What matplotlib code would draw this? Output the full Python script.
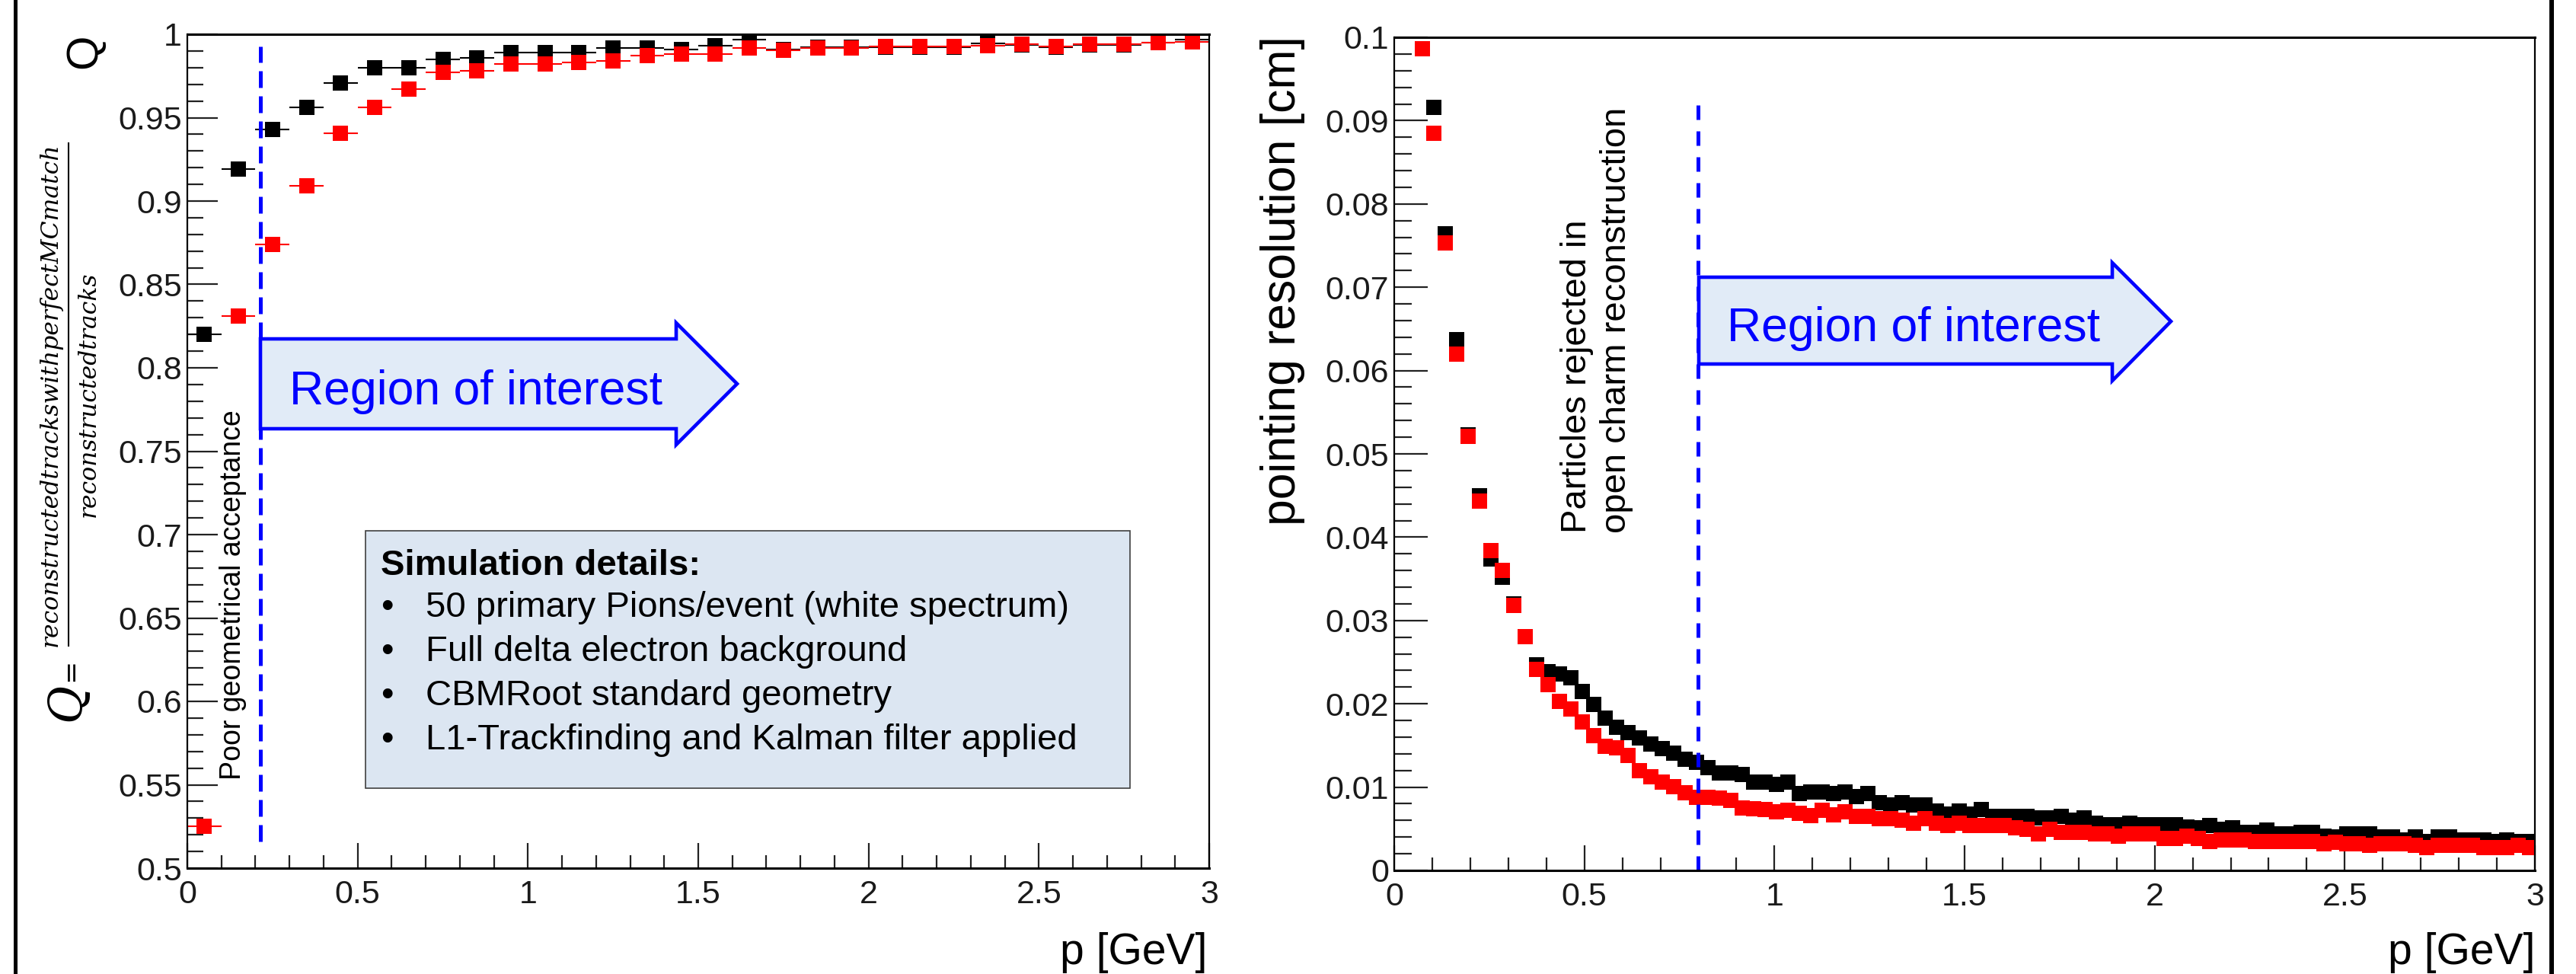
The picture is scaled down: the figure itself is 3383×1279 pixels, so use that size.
import numpy as np
import matplotlib.pyplot as plt
from matplotlib.patches import Polygon, Rectangle
from matplotlib.ticker import MultipleLocator, FuncFormatter

plt.rcParams['font.family'] = ['Liberation Sans', 'DejaVu Sans']

W, H = 3383, 1279
nan = np.nan

# left panel: Q per 0.1 GeV bin
p_left = np.linspace(0.05, 2.95, 30)
q_black = [0.820, 0.919, 0.943, 0.956, 0.971, 0.980, 0.980, 0.985, 0.986, 0.989,
           0.989, 0.989, 0.992, 0.992, 0.991, 0.993, 0.997, 0.9907, 0.9924, 0.9924,
           0.9922, 0.9922, 0.9922, 0.9945, 0.9935, 0.9922, 0.9935, 0.9935, 0.995, 0.9966]
q_red = [0.525, 0.831, 0.874, 0.909, 0.9405, 0.956, 0.967, 0.977, 0.978, 0.982,
         0.982, 0.983, 0.984, 0.987, 0.988, 0.988, 0.9917, 0.9904, 0.9917, 0.9917,
         0.9926, 0.9926, 0.9926, 0.993, 0.994, 0.9926, 0.9939, 0.9939, 0.995, 0.9954]

# right panel: pointing resolution [cm] per 0.03 GeV bin
p_right = np.linspace(0.015, 2.985, 100)
res_black = [nan, nan, nan, 0.0916, 0.0764, 0.0637, 0.0523, 0.0450, 0.0374, 0.0352,
             0.0320, 0.0281, 0.0247, 0.0239, 0.0236, 0.0231, 0.0215, 0.0199, 0.0183, 0.0172,
             0.0165, 0.0159, 0.0152, 0.0146, 0.0141, 0.0133, 0.0130, 0.0123, 0.0117, 0.0117,
             0.0115, 0.0106, 0.0106, 0.0103, 0.0106, 0.0092, 0.0094, 0.0094, 0.0092, 0.0094,
             0.0089, 0.0092, 0.0081, 0.0079, 0.0081, 0.0079, 0.0079, 0.0071, 0.0068, 0.0071,
             0.0068, 0.0073, 0.0065, 0.0065, 0.0065, 0.0065, 0.0063, 0.0063, 0.0065, 0.0060,
             0.0063, 0.0057, 0.0055, 0.0055, 0.0057, 0.0055, 0.0055, 0.0055, 0.0055, 0.0052,
             0.0051, 0.0054, 0.0049, 0.0051, 0.0046, 0.0046, 0.0048, 0.0044, 0.0044, 0.0046,
             0.0046, 0.0041, 0.0040, 0.0044, 0.0044, 0.0044, 0.0040, 0.0040, 0.0037, 0.0040,
             0.0035, 0.0040, 0.0040, 0.0037, 0.0037, 0.0037, 0.0035, 0.0037, 0.0035, 0.0035]
res_red = [nan, nan, 0.0986, 0.0885, 0.0753, 0.0620, 0.0521, 0.0443, 0.0384, 0.0360,
           0.0318, 0.0281, 0.0241, 0.0223, 0.0203, 0.0194, 0.0178, 0.0162, 0.0149, 0.0147,
           0.0138, 0.0120, 0.0112, 0.0106, 0.0101, 0.0093, 0.0088, 0.0088, 0.0087, 0.0084,
           0.0075, 0.0074, 0.0073, 0.0070, 0.0072, 0.0069, 0.0066, 0.0072, 0.0067, 0.0070,
           0.0065, 0.0065, 0.0062, 0.0062, 0.0060, 0.0057, 0.0062, 0.0057, 0.0054, 0.0057,
           0.0054, 0.0054, 0.0054, 0.0054, 0.0051, 0.0049, 0.0044, 0.0049, 0.0046, 0.0046,
           0.0046, 0.0044, 0.0044, 0.0041, 0.0044, 0.0044, 0.0044, 0.0038, 0.0038, 0.0041,
           0.0038, 0.0035, 0.0037, 0.0037, 0.0037, 0.0035, 0.0035, 0.0035, 0.0035, 0.0035,
           0.0035, 0.0032, 0.0034, 0.0032, 0.0032, 0.0030, 0.0032, 0.0032, 0.0032, 0.0030,
           0.0027, 0.0030, 0.0030, 0.0030, 0.0030, 0.0027, 0.0027, 0.0027, 0.0030, 0.0027]

cut_left = 0.215
cut_right = 0.8
sim_lines = ["50 primary Pions/event (white spectrum)",
             "Full delta electron background",
             "CBMRoot standard geometry",
             "L1-Trackfinding and Kalman filter applied"]

BLUE = '#0000ff'
ARROW_FILL = '#e1ebf7'
TICK_FONT = ['Liberation Sans Narrow', 'Liberation Sans']

fig = plt.figure(figsize=(W / 100, H / 100), dpi=100)
ax1 = fig.add_axes([246 / W, 1 - 1140 / H, (1588 - 246) / W, (1140 - 45) / H])
ax2 = fig.add_axes([1831 / W, 1 - 1143 / H, (3329 - 1831) / W, (1143 - 49) / H])


def root_style(ax, ymajor, yminor, ylen):
    fmt = FuncFormatter(lambda v, pos: '%g' % round(v, 4))
    ax.xaxis.set_major_locator(MultipleLocator(0.5))
    ax.xaxis.set_minor_locator(MultipleLocator(0.1))
    ax.yaxis.set_major_locator(MultipleLocator(ymajor))
    ax.yaxis.set_minor_locator(MultipleLocator(yminor))
    ax.xaxis.set_major_formatter(fmt)
    ax.yaxis.set_major_formatter(fmt)
    ax.tick_params(which='both', direction='in', top=False, right=False,
                   width=1.6, color='#222222')
    ax.tick_params(axis='y', which='major', length=ylen, pad=5)
    ax.tick_params(axis='y', which='minor', length=ylen * 0.52)
    ax.tick_params(axis='x', which='major', length=24, pad=11)
    ax.tick_params(axis='x', which='minor', length=12)
    for lab in ax.get_xticklabels() + ax.get_yticklabels():
        lab.set_family(TICK_FONT)
        lab.set_fontsize(31)
        lab.set_color('#1a1a1a')
    for s in ax.spines.values():
        s.set_linewidth(1.6)
    ax.spines['top'].set_linewidth(2.2)
    ax.spines['bottom'].set_linewidth(2.2)


# left panel
ax1.errorbar(p_left, q_black, xerr=0.05, fmt='s', color='black', ms=15, mew=0,
             elinewidth=1.5, capsize=0)
ax1.errorbar(p_left, q_red, xerr=0.05, fmt='s', color='red', ms=15, mew=0,
             elinewidth=1.5, capsize=0)
ax1.plot([cut_left, cut_left], [0.516, 0.9927], color=BLUE, lw=3.6, ls=(0, (4.4, 2.2)))
ax1.set_xlim(0, 3)
ax1.set_ylim(0.5, 1)
root_style(ax1, 0.05, 0.01, 29)

# right panel
ax2.plot(p_right, res_black, 's', color='black', ms=15, mew=0)
ax2.plot(p_right, res_red, 's', color='red', ms=15, mew=0)
ax2.plot([cut_right, cut_right], [0, 0.0921], color=BLUE, lw=3.6, ls=(0, (3.8, 3.0)))
ax2.set_xlim(0, 3)
ax2.set_ylim(0, 0.1)
root_style(ax2, 0.01, 0.002, 32)

# overlay in pixel coordinates for the slide annotations
ov = fig.add_axes([0, 0, 1, 1])
ov.set_xlim(0, W)
ov.set_ylim(H, 0)
ov.axis('off')
ov.patch.set_alpha(0)

# outer frame
ov.plot([20, 20], [0, H], color='black', lw=3.6)
ov.plot([3351, 3351], [0, H], color='black', lw=4.3)

# axis titles
ov.text(111, 67, 'Q', rotation=90, ha='center', va='center', fontsize=42)
ov.text(66, 518, 'reconstructedtrackswithperfectMCmatch', rotation=90, ha='center',
        va='center', fontsize=22.6, family='DejaVu Serif', style='italic')
ov.plot([90, 90], [188, 848], color='black', lw=1.5)
ov.text(116, 518, 'reconstructedtracks', rotation=90, ha='center', va='center',
        fontsize=22.6, family='DejaVu Serif', style='italic')
ov.text(92, 880, '=', rotation=90, ha='center', va='center', fontsize=26,
        family='DejaVu Serif')
ov.text(88, 922, 'Q', rotation=90, ha='center', va='center', fontsize=44,
        family='DejaVu Serif', style='italic')
ov.text(1685, 47, 'pointing resolution [cm]', rotation=90, ha='center', va='top', fontsize=45)
ov.text(1586, 1266, 'p [GeV]', ha='right', va='baseline', fontsize=41)
ov.text(3329, 1266, 'p [GeV]', ha='right', va='baseline', fontsize=41)

# cut annotations
ov.text(306, 1024, 'Poor geometrical acceptance', rotation=90, ha='center', va='bottom',
        fontsize=27)
ov.text(2097, 700, 'Particles rejected in\nopen charm reconstruction', rotation=90,
        ha='center', va='bottom', fontsize=34, linespacing=1.25, multialignment='left')

# region of interest arrows
left_arrow = [(342, 445), (888, 445), (888, 424), (968, 504), (888, 584), (888, 563), (342, 563)]
right_arrow = [(2231, 364), (2774, 364), (2774, 345), (2851, 422), (2774, 500), (2774, 478), (2231, 478)]
for verts in (left_arrow, right_arrow):
    ov.add_patch(Polygon(verts, closed=True, facecolor=ARROW_FILL, edgecolor=BLUE,
                         lw=3.3, joinstyle='miter'))
ov.text(625, 531, 'Region of interest', color=BLUE, ha='center', va='baseline', fontsize=45)
ov.text(2513, 448, 'Region of interest', color=BLUE, ha='center', va='baseline', fontsize=45)

# simulation details box
ov.add_patch(Rectangle((480, 697), 1004, 338, facecolor='#dce6f2', edgecolor='#404040', lw=1.2))
ov.text(500, 755, 'Simulation details:', fontweight='bold', fontsize=34, va='baseline')
for i, line in enumerate(sim_lines):
    y = 810 + 58 * i
    ov.text(500, y, '\u2022', fontsize=34, va='baseline')
    ov.text(559, y, line, fontsize=34, va='baseline')

fig.savefig('out.png', dpi=100)
